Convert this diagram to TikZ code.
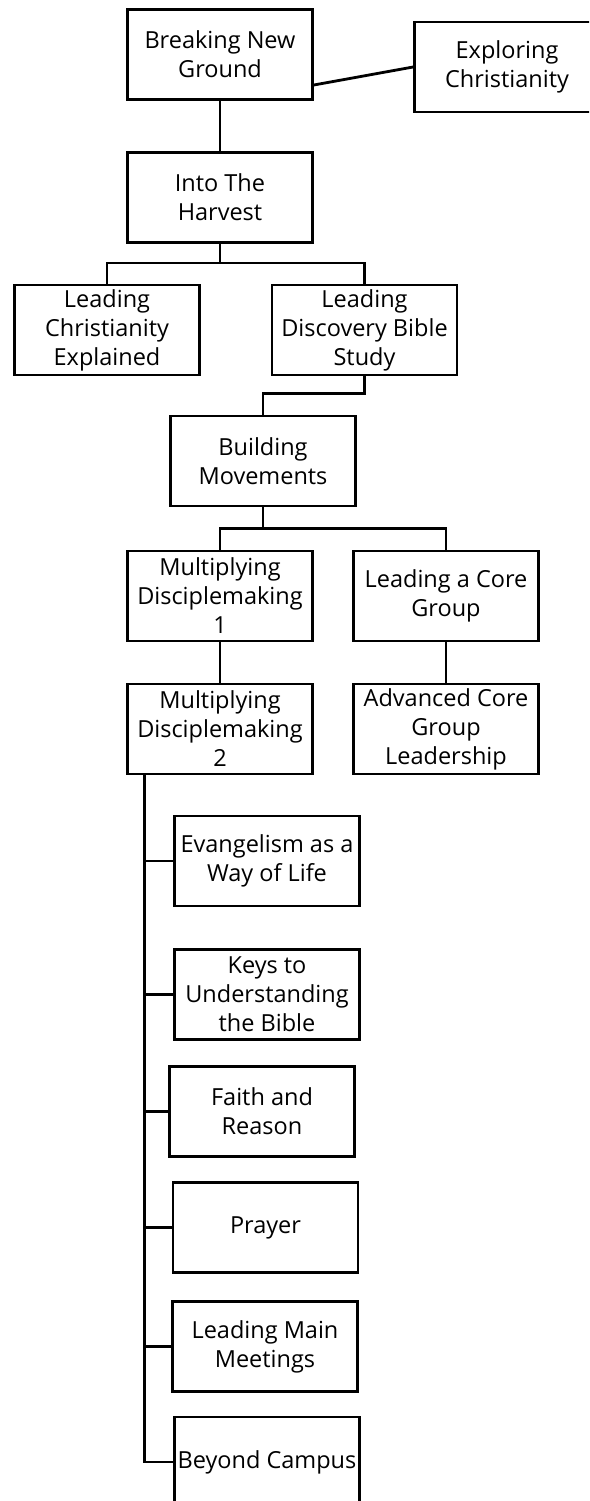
\documentclass[tikz,border=0pt]{standalone}
\usepackage{fontspec}
\setmainfont{Open Sans}
\begin{document}
\begin{tikzpicture}[x=1pt,y=-1pt]
\tikzset{cours/.style={draw, line width=2.8pt, minimum width=185pt, minimum height=90pt, inner sep=0pt, align=center, font=\fontsize{23.5}{29}\selectfont}}
\tikzset{lien/.style={line width=2.8pt}}
\useasboundingbox (0,0) rectangle (589,1501);
\clip (0,0) rectangle (589,1501);
\node[cours] (BNG) at (220,54.5) {Breaking New\\Ground};
\node[cours] (EC) at (507,67) {Exploring\\Christianity};
\node[cours] (ITH) at (220,197.5) {Into The\\Harvest};
\node[cours] (LCE) at (107,330) {Leading\\Christianity\\Explained};
\node[cours] (LDBS) at (364.5,330) {Leading\\Discovery Bible\\Study};
\node[cours] (BM) at (263,461) {Building\\Movements};
\node[cours] (MD1) at (220,596) {Multiplying\\Disciplemaking\\1};
\node[cours] (LCG) at (446,596) {Leading a Core\\Group};
\node[cours] (MD2) at (220,729) {Multiplying\\Disciplemaking\\2};
\node[cours] (ACGL) at (446,729) {Advanced Core\\Group\\Leadership};
\node[cours] (EWL) at (267,861) {Evangelism as a\\Way of Life};
\node[cours] (KUB) at (267,994.5) {Keys to\\Understanding\\the Bible};
\node[cours] (FR) at (262,1111.5) {Faith and\\Reason};
\node[cours] (PR) at (265.5,1227.5) {Prayer};
\node[cours] (LMM) at (265,1346.5) {Leading Main\\Meetings};
\node[cours] (BC) at (267,1462) {Beyond Campus};
\draw[lien] ([yshift=-30.5pt]BNG.east) -- (EC.west);
\draw[lien] (BNG) -- (ITH);
\draw[lien] (ITH.south) -- ++(0,19) -| (LCE.north);
\draw[lien] (ITH.south) -- ++(0,19) -| (LDBS.north);
\draw[lien] (LDBS.south) -- ++(0,17) -| (BM.north);
\draw[lien] (BM.south) -- ++(0,21) -| (MD1.north);
\draw[lien] (BM.south) -- ++(0,21) -| (LCG.north);
\draw[lien] (MD1) -- (MD2);
\draw[lien] (LCG) -- (ACGL);
\draw[lien] ([xshift=18pt]MD2.south west) |- (EWL.west);
\draw[lien] ([xshift=18pt]MD2.south west) |- (KUB.west);
\draw[lien] ([xshift=18pt]MD2.south west) |- (FR.west);
\draw[lien] ([xshift=18pt]MD2.south west) |- (PR.west);
\draw[lien] ([xshift=18pt]MD2.south west) |- (LMM.west);
\draw[lien] ([xshift=18pt]MD2.south west) |- (BC.west);
\end{tikzpicture}
\end{document}
